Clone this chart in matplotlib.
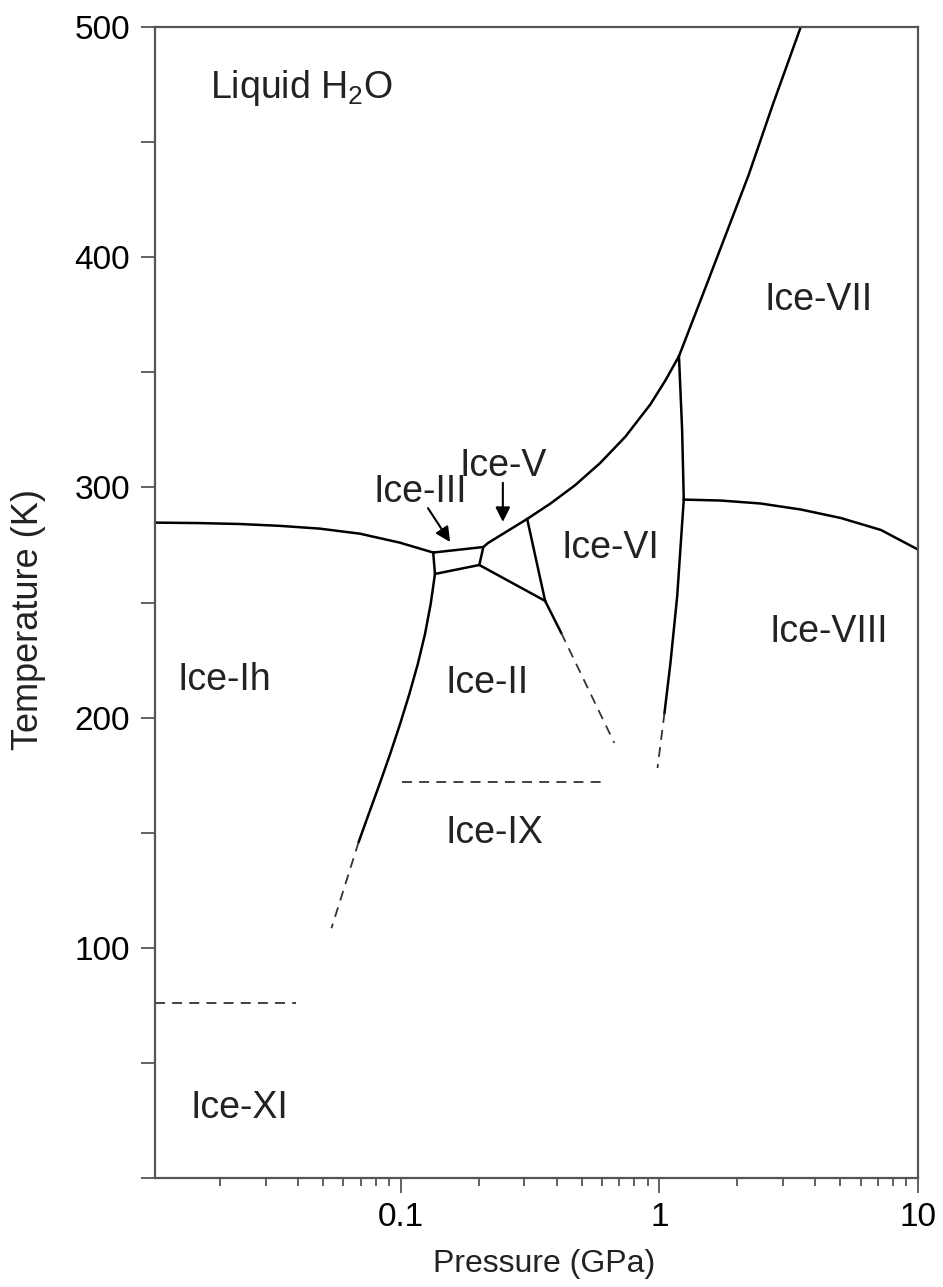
import numpy as np
import matplotlib
matplotlib.use('Agg')
import matplotlib.pyplot as plt
from matplotlib.ticker import FixedLocator, NullFormatter

plt.rcParams['font.family'] = ['Liberation Sans', 'DejaVu Sans']
plt.rcParams['mathtext.fontset'] = 'custom'
plt.rcParams['mathtext.rm'] = 'Liberation Sans'

# phase boundaries: pressure (GPa), temperature (K)
ih_liq_P = [0.0112, 0.01663, 0.02377, 0.0340, 0.0485, 0.0694, 0.0991, 0.1334]
ih_liq_T = [284.7, 284.5, 284.1, 283.3, 282.1, 279.9, 276.0, 271.7]

iii_box_P = [0.1334, 0.2085, 0.2011, 0.1355, 0.1334]
iii_box_T = [271.7, 274.1, 266.3, 262.4, 271.7]

liq_hp_P = [0.2085, 0.217, 0.308, 0.378, 0.4725, 0.590, 0.738, 0.923, 1.055, 1.19,
            1.494, 1.803, 2.213, 2.741, 3.52]
liq_hp_T = [274.1, 275.8, 286.3, 292.9, 301.0, 310.6, 322.0, 336.1, 346.5, 357.0,
            385.7, 409.6, 435.7, 466.1, 500.0]

vi_vii_viii_P = [1.19, 1.224, 1.242, 1.171, 1.103, 1.046]
vi_vii_viii_T = [357.0, 324.9, 294.7, 252.5, 223.7, 202.0]
vi_viii_dash_P = [1.046, 0.983]
vi_viii_dash_T = [202.0, 178.1]

vii_viii_P = [1.242, 1.724, 2.464, 3.52, 5.03, 7.19, 10.0]
vii_viii_T = [294.7, 294.3, 293.0, 290.4, 286.7, 281.5, 273.0]

ih_ii_P = [0.1355, 0.1304, 0.1240, 0.1163, 0.1079, 0.0993, 0.0909, 0.0828, 0.0751, 0.0687]
ih_ii_T = [262.4, 249.3, 236.3, 223.3, 210.3, 197.2, 184.2, 171.2, 158.1, 146.0]
ih_ii_dash_P = [0.0687, 0.0539]
ih_ii_dash_T = [146.0, 108.5]

ii_v_P = [0.2011, 0.3614]
ii_v_T = [266.3, 250.7]
v_vi_P = [0.308, 0.3614]
v_vi_T = [286.3, 250.7]
ii_vi_P = [0.3614, 0.417]
ii_vi_T = [250.7, 236.8]
ii_vi_dash_P = [0.417, 0.669]
ii_vi_dash_T = [236.8, 189.0]

ix_P = [0.1006, 0.608]
ix_T = [172.2, 172.2]
xi_P = [0.0112, 0.0394]
xi_T = [76.2, 76.2]

# region labels
labels = [r'Liquid H$_\mathregular{2}$O', 'Ice-VII', 'Ice-V', 'Ice-III', 'Ice-VI',
          'Ice-VIII', 'Ice-Ih', 'Ice-II', 'Ice-IX', 'Ice-XI']
label_P = [0.0182, 4.13, 0.248, 0.1185, 0.646, 4.52, 0.0208, 0.215, 0.231, 0.0238]
label_T = [473.5, 381.4, 309.3, 298.0, 273.7, 237.2, 216.3, 215.0, 149.9, 30.4]

fig = plt.figure(figsize=(9.43, 12.87), dpi=100)
ax = fig.add_axes([155/943, 1-1178/1287, (918-155)/943, (1178-27)/1287])

solid = dict(color='black', lw=1.8, solid_joinstyle='miter')
dashed = dict(color='#333333', lw=1.3, linestyle=(0, (5.5, 4)))

ax.plot(ih_liq_P, ih_liq_T, **solid)
ax.plot(iii_box_P, iii_box_T, **solid)
ax.plot(liq_hp_P, liq_hp_T, **solid)
ax.plot(vi_vii_viii_P, vi_vii_viii_T, **solid)
ax.plot(vii_viii_P, vii_viii_T, **solid)
ax.plot(ih_ii_P, ih_ii_T, **solid)
ax.plot(ii_v_P, ii_v_T, **solid)
ax.plot(v_vi_P, v_vi_T, **solid)
ax.plot(ii_vi_P, ii_vi_T, **solid)

ax.plot(vi_viii_dash_P, vi_viii_dash_T, **dashed)
ax.plot(ih_ii_dash_P, ih_ii_dash_T, **dashed)
ax.plot(ii_vi_dash_P, ii_vi_dash_T, **dashed)
ax.plot(ix_P, ix_T, **dashed)
ax.plot(xi_P, xi_T, **dashed)

for lab, p, t in zip(labels, label_P, label_T):
    ha = 'left' if lab.startswith('Liquid') else 'center'
    ax.text(p, t, lab, fontsize=27, ha=ha, va='center', color='#222222')

arrow = dict(arrowstyle='-|>', color='black', lw=1.5, mutation_scale=22,
             shrinkA=0, shrinkB=0)
ax.annotate('', xy=(0.155, 276.3), xytext=(0.1273, 291.0), arrowprops=arrow)
ax.annotate('', xy=(0.248, 285.0), xytext=(0.248, 302.0), arrowprops=arrow)

ax.set_xscale('log')
ax.set_xlim(0.0112, 10)
ax.set_ylim(0, 500)

ax.xaxis.set_major_locator(FixedLocator([0.1, 1, 10]))
ax.set_xticklabels(['0.1', '1', '10'])
minor_x = [m * d for d in [0.01, 0.1, 1] for m in range(2, 10)]
ax.xaxis.set_minor_locator(FixedLocator(minor_x))
ax.xaxis.set_minor_formatter(NullFormatter())

ax.set_yticks(np.arange(0, 501, 50))
ax.set_yticklabels(['' if (v % 100 or v == 0) else str(v) for v in range(0, 501, 50)])

ax.tick_params(axis='x', which='major', length=11, width=1.3, color='#555555',
               labelsize=24, pad=6, direction='out')
ax.tick_params(axis='x', which='minor', length=6, width=1.3, color='#555555', direction='out')
ax.tick_params(axis='y', which='major', length=10, width=1.3, color='#555555',
               labelsize=24, pad=8, direction='out')

for s in ax.spines.values():
    s.set_color('#555555')
    s.set_linewidth(1.6)

ax.set_xlabel('Pressure (GPa)', fontsize=23, color='#222222')
ax.set_ylabel('Temperature (K)', fontsize=26, color='#222222')
ax.xaxis.set_label_coords(0.51, -0.062)
ax.yaxis.set_label_coords(-0.143, 0.485)

fig.savefig('out.png', dpi=100)
